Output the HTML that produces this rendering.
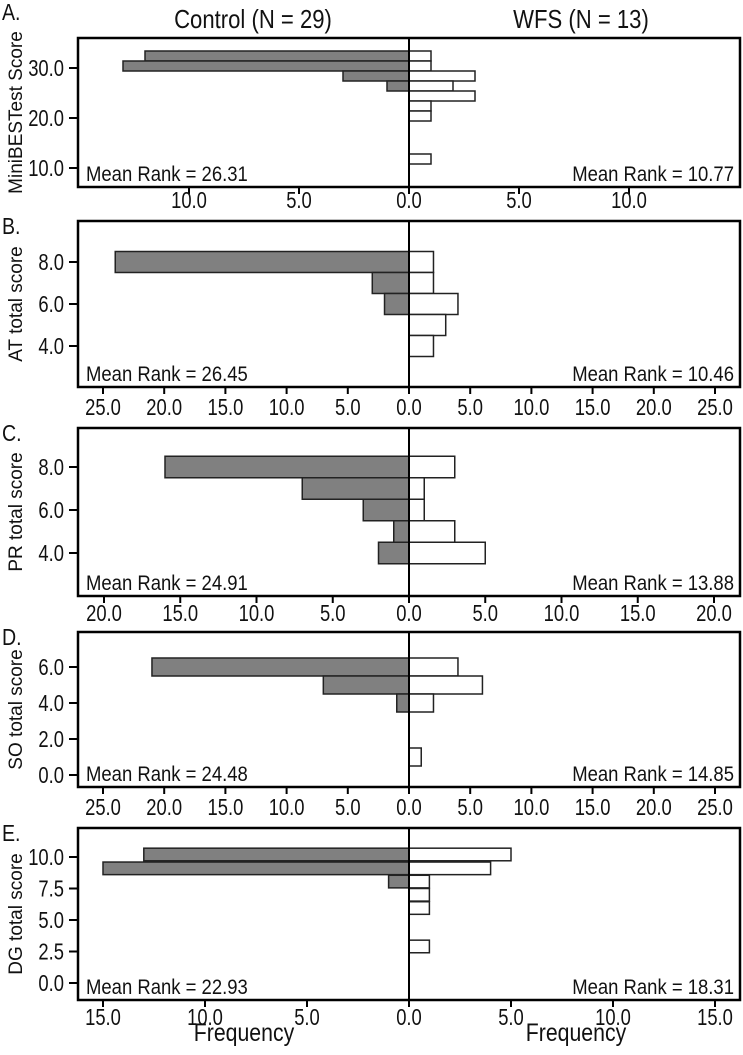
<!DOCTYPE html>
<html><head><meta charset="utf-8"><style>
html,body{margin:0;padding:0;background:#fff}
svg text{font-family:"Liberation Sans",sans-serif;fill:#111}
</style></head><body>
<svg id="fig" width="743" height="1050" viewBox="0 0 743 1050" xmlns="http://www.w3.org/2000/svg">
<text class="nar" x="253" y="28" font-size="26" text-anchor="middle">Control (N = 29)</text>
<text class="nar" x="581" y="28" font-size="26" text-anchor="middle">WFS (N = 13)</text>
<text class="nar" x="244" y="1041" font-size="25" text-anchor="middle">Frequency</text>
<text class="nar" x="576" y="1041" font-size="25" text-anchor="middle">Frequency</text>
</svg>
<script>
// Panel A: MiniBESTest
const aCenters=[32.4,30.4,28.4,26.4,24.4,22.4,20.4,11.8];
const aControl=[12,13,3,1,0,0,0,0];
const aWfs=[1,1,3,2,3,1,1,1];
const aYTicks=[30,20,10];
const aXTicks=[0,5,10];
// Panel B: AT
const bCenters=[8,7,6,5,4];
const bControl=[24,3,2,0,0];
const bWfs=[2,2,4,3,2];
const bYTicks=[8,6,4];
const bXTicks=[0,5,10,15,20,25];
// Panel C: PR
const cCenters=[8,7,6,5,4];
const cControl=[16,7,3,1,2];
const cWfs=[3,1,1,3,5];
const cYTicks=[8,6,4];
const cXTicks=[0,5,10,15,20];
// Panel D: SO
const dCenters=[6,5,4,1];
const dControl=[21,7,1,0];
const dWfs=[4,6,2,1];
const dYTicks=[6,4,2,0];
const dXTicks=[0,5,10,15,20,25];
// Panel E: DG
const eCenters=[10.2,9.1,8.05,7,5.95,2.9];
const eControl=[13,15,1,0,0,0];
const eWfs=[5,4,1,1,1,1];
const eYTicks=[10,7.5,5,2.5,0];
const eXTicks=[0,5,10,15];
const meanRanks=[["26.31","10.77"],["26.45","10.46"],["24.91","13.88"],["24.48","14.85"],["22.93","18.31"]];

const NS="http://www.w3.org/2000/svg";
const svg=document.getElementById('fig');
function mk(tag,attrs,parent){const e=document.createElementNS(NS,tag);for(const k in attrs)e.setAttribute(k,attrs[k]);(parent||svg).appendChild(e);return e;}
function narrow(t,f){try{const w=t.getComputedTextLength();t.setAttribute('textLength',(w*f).toFixed(1));t.setAttribute('lengthAdjust','spacingAndGlyphs');}catch(e){}}

const panels=[
 {letter:"A.",ytitle:"MiniBESTest Score",top:38,bot:187,y0v:30,y0p:68,ppu:5,bw:2,xppu:22,centers:aCenters,ctl:aControl,wfs:aWfs,yt:aYTicks,xt:aXTicks,lblY:208,ly:12},
 {letter:"B.",ytitle:"AT total score",top:221,bot:387,y0v:8,y0p:262,ppu:21,bw:1,xppu:12.24,centers:bCenters,ctl:bControl,wfs:bWfs,yt:bYTicks,xt:bXTicks,lblY:415,ly:226},
 {letter:"C.",ytitle:"PR total score",top:428,bot:596,y0v:8,y0p:467,ppu:21.5,bw:1,xppu:15.25,centers:cCenters,ctl:cControl,wfs:cWfs,yt:cYTicks,xt:cXTicks,lblY:621,ly:433},
 {letter:"D.",ytitle:"SO total score",top:632,bot:787,y0v:6,y0p:667,ppu:18,bw:1,xppu:12.24,centers:dCenters,ctl:dControl,wfs:dWfs,yt:dYTicks,xt:dXTicks,lblY:815,ly:637},
 {letter:"E.",ytitle:"DG total score",top:828,bot:1000,y0v:10,y0p:857,ppu:12.6,bw:1,xppu:20.4,centers:eCenters,ctl:eControl,wfs:eWfs,yt:eYTicks,xt:eXTicks,lblY:1025,ly:833}
];
const L=78,R=740,CX=409;
document.querySelectorAll('text.nar').forEach(t=>narrow(t,0.85));
panels.forEach((p,i)=>{
 const g=mk('g',{});
 
 
 const yS=v=>p.y0p-(v-p.y0v)*p.ppu;
 const xL=v=>CX-v*p.xppu, xR=v=>CX+v*p.xppu;
 const lt=mk('text',{x:2,y:p.ly+8,'font-size':23},g);lt.textContent=p.letter;
 
 
 narrow(lt,0.85);
 const my=(p.top+p.bot)/2;
 const yt=mk('text',{x:0,y:0,'font-size':19,'text-anchor':'middle',transform:`translate(22,${my}) rotate(-90)`},g);yt.textContent=p.ytitle;
 
 
 p.centers.forEach((c,j)=>{
  const y1=yS(c+p.bw/2),y2=yS(c-p.bw/2);
  if(p.ctl[j]>0){const r=mk('rect',{x:xL(p.ctl[j]),y:y1,width:p.ctl[j]*p.xppu,height:y2-y1,fill:'#808080',stroke:'#222','stroke-width':1.5},g);
   
   }
  if(p.wfs[j]>0){const r=mk('rect',{x:CX,y:y1,width:p.wfs[j]*p.xppu,height:y2-y1,fill:'#fff',stroke:'#222','stroke-width':1.5},g);
   
   }
 });
 const cl=mk('line',{x1:CX,x2:CX,y1:p.top,y2:p.bot,stroke:'#000','stroke-width':2},g);
 
 
 const box=mk('rect',{x:L,y:p.top,width:R-L,height:p.bot-p.top,fill:'none',stroke:'#000','stroke-width':2.5},g);
 
 
 p.yt.forEach(v=>{
  const y=yS(v);
  mk('line',{x1:69,x2:L,y1:y,y2:y,stroke:'#000','stroke-width':2},g);
  const t=mk('text',{x:64,y:y+8,'font-size':23,'text-anchor':'end'},g);t.textContent=v.toFixed(1);
  
  
  narrow(t,0.8);
 });
 p.xt.forEach(v=>{
  [xL(v),xR(v)].forEach((x,k)=>{
   if(v===0&&k===1)return;
   mk('line',{x1:x,x2:x,y1:p.bot,y2:p.bot+7,stroke:'#000','stroke-width':2},g);
   const t=mk('text',{x:x,y:p.lblY,'font-size':23,'text-anchor':'middle'},g);t.textContent=v.toFixed(1);
   
   
   narrow(t,0.8);
  });
 });
 const m1=mk('text',{x:86,y:p.bot-6,'font-size':21},g);m1.textContent='Mean Rank = '+meanRanks[i][0];
 
 
 narrow(m1,0.88);
 const m2=mk('text',{x:734,y:p.bot-6,'font-size':21,'text-anchor':'end'},g);m2.textContent='Mean Rank = '+meanRanks[i][1];
 
 
 narrow(m2,0.88);
});
</script>
</body></html>
